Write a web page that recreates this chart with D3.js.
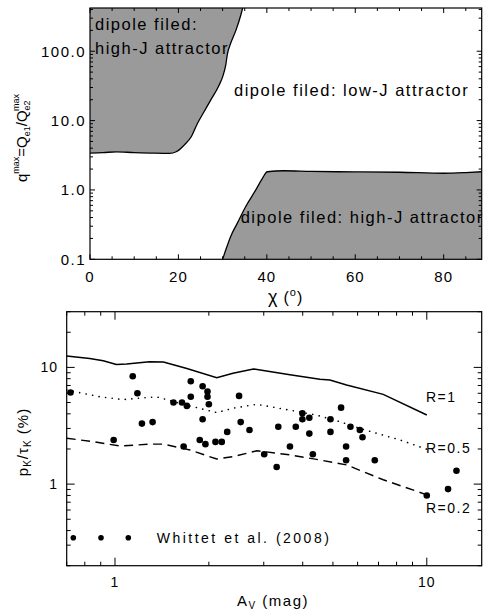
<!DOCTYPE html>
<html><head><meta charset="utf-8">
<script src="https://cdn.jsdelivr.net/npm/d3@7"></script>
<style>
body{margin:0;background:#fff;}
text{font-family:"Liberation Sans",Arial,Helvetica,sans-serif;fill:#000;}
</style></head><body>
<svg id="c" width="485" height="613"></svg>
<script>
// ---------- top panel data ----------
const highJTopChi = [0,3,6,10,14,18,19.5,21.3,22.9,24.3,25.8,27.3,29.2,30.0,30.7,31.1,31.8,33.0,34.1,34.6];
const highJTopQ   = [3.4,3.45,3.55,3.45,3.4,3.37,3.55,4.43,5.84,9.1,13.4,19.7,32.4,42.7,63,92.7,129,200,330,436];
const highJBotChi = [30.0,30.7,31.8,33.3,35.2,37.5,39.0,40.1,43.8,50,60,70,80,85,88.6];
const highJBotQ   = [0.1,0.136,0.212,0.33,0.573,1.0,1.47,1.83,1.89,1.85,1.82,1.80,1.74,1.78,1.83];
const chiTicks = [0,20,40,60,80];
const chiTickLabels = ["0","20","40","60","80"];
const qTicks = [0.1,1,10,100];
const qTickLabels = ["0.1","1.0","10.0","100.0"];
const regionLabels = ["dipole filed:","high-J attractor","dipole filed: low-J attractor","dipole filed: high-J attractor"];

// ---------- bottom panel data ----------
const r1Av  = [0.70,0.83,0.917,1.01,1.09,1.29,1.43,1.70,2.12,2.39,2.78,3.06,3.64,4.54,4.89,5.53,7.25,10];
const r1Val = [12.5,11.9,11.4,10.6,10.7,11.2,11.1,9.8,8.15,8.9,9.7,9.3,8.65,7.9,7.8,7.06,5.87,3.91];
const r05Av  = [0.70,0.895,1.06,1.36,1.62,2.12,2.39,2.85,3.64,4.43,5.26,6.1,8.2,10];
const r05Val = [6.4,5.6,5.3,5.6,4.9,4.1,4.47,4.83,4.3,3.9,3.43,3.0,2.39,1.99];
const r02Av  = [0.70,0.85,1.04,1.29,1.43,1.74,2.12,2.39,2.85,3.64,4.54,5.53,7.25,10];
const r02Val = [2.47,2.31,2.12,2.2,2.2,1.96,1.64,1.72,1.93,1.78,1.61,1.46,1.09,0.81];
const obsAv = [0.72,1.14,1.18,1.22,1.32,0.99,1.54,1.64,1.70,1.75,1.75,1.66,1.91,1.98,1.98,2.0,1.91,1.87,1.95,2.1,2.2,2.29,2.5,2.53,2.7,3.01,3.34,3.3,3.64,3.8,3.99,3.99,4.2,4.2,4.31,4.91,4.91,5.31,5.51,5.51,5.69,6.1,6.22,6.81,10.0,11.7,12.45];
const obsP  = [6.1,8.4,6.0,3.3,3.4,2.39,5.0,5.0,4.68,5.6,7.6,2.1,6.9,6.2,5.6,4.83,3.6,2.39,2.2,2.3,2.3,2.8,5.7,3.4,2.91,1.8,3.1,1.4,2.1,3.1,4.05,3.6,3.7,2.71,1.8,3.6,2.8,4.52,2.1,1.6,3.1,2.91,2.52,1.6,0.8,0.906,1.3];
const avTicks = [1,10];
const avTickLabels = ["1","10"];
const pTicks = [1,10];
const pTickLabels = ["1","10"];
const curveLabels = ["R=1","R=0.5","R=0.2"];
const legendLabel = "Whittet et al. (2008)";

const svg = d3.select("#c");

// ================= TOP PANEL =================
const T = {l:90, r:481.7, t:8, b:259.3};
const xT = d3.scaleLinear().domain([0,88.6]).range([T.l,T.r]);
const yT = d3.scaleLog().domain([0.1,420]).range([T.b,T.t]);

svg.append("clipPath").attr("id","clipT").append("rect")
  .attr("x",T.l).attr("y",T.t).attr("width",T.r-T.l).attr("height",T.b-T.t);
const gT = svg.append("g").attr("clip-path","url(#clipT)");

const topPts = highJTopChi.map((c,i)=>[c,highJTopQ[i]]);
const botPts = highJBotChi.map((c,i)=>[c,highJBotQ[i]]);
const bLine = d3.line().x(d=>xT(d[0])).y(d=>yT(d[1])).curve(d3.curveMonotoneX);

// upper-left region polygon
const d1 = bLine(topPts) + "L" + xT(34.6) + "," + yT(420) + "L" + xT(0) + "," + yT(420) + "Z";
gT.append("path").attr("d",d1).attr("fill","#9a9a9a");
// lower-right region polygon
const d2 = bLine(botPts) + "L" + xT(88.6) + "," + yT(0.1) + "Z";
gT.append("path").attr("d",d2).attr("fill","#9a9a9a");
gT.append("path").attr("d",bLine(topPts)).attr("fill","none").attr("stroke","#000").attr("stroke-width",1.3);
gT.append("path").attr("d",bLine(botPts)).attr("fill","none").attr("stroke","#000").attr("stroke-width",1.3);

// frame
svg.append("rect").attr("x",T.l).attr("y",T.t).attr("width",T.r-T.l).attr("height",T.b-T.t)
  .attr("fill","none").attr("stroke","#000").attr("stroke-width",1.2);

// ticks
const tk = svg.append("g").attr("stroke","#000").attr("stroke-width",1);
for (let c=0;c<=88.6;c+=5){
  const len = (c%20===0)?5:3;
  const x = xT(c);
  tk.append("line").attr("x1",x).attr("x2",x).attr("y1",T.b).attr("y2",T.b-len);
  tk.append("line").attr("x1",x).attr("x2",x).attr("y1",T.t).attr("y2",T.t+len);
}
[0.1,1,10,100].forEach(d=>{
  for (let k=1;k<=9;k++){
    const v=d*k; if (v>420) break;
    const len = (k===1)?5:3;
    const y=yT(v);
    tk.append("line").attr("x1",T.l).attr("x2",T.l+len).attr("y1",y).attr("y2",y);
    tk.append("line").attr("x1",T.r).attr("x2",T.r-len).attr("y1",y).attr("y2",y);
  }
});
// tick labels
chiTicks.forEach((c,i)=>svg.append("text").attr("x",xT(c)).attr("y",282).attr("text-anchor","middle")
  .attr("font-size",15).attr("letter-spacing",1).text(chiTickLabels[i]));
qTicks.forEach((q,i)=>svg.append("text").attr("x",86).attr("y",yT(q)+5.5).attr("text-anchor","end")
  .attr("font-size",15).attr("letter-spacing",1.5).text(qTickLabels[i]));

// region labels
const rl = [[95,30],[95,54],[234,96],[240.7,222.7]];
regionLabels.forEach((t,i)=>svg.append("text").attr("x",rl[i][0]).attr("y",rl[i][1])
  .attr("font-size",16.5).attr("letter-spacing",1.5).text(t));

// axis titles
const xtT = svg.append("text").attr("x",268).attr("y",303).attr("font-size",16);
xtT.append("tspan").attr("font-size",18).text("χ");
xtT.append("tspan").attr("dx",6).text("(");
xtT.append("tspan").attr("font-size",11).attr("dx",1).attr("dy",-7).text("o");
xtT.append("tspan").attr("dx",1).attr("dy",7).text(")");

const ytT = svg.append("text").attr("transform","translate(27,138) rotate(-90)")
  .attr("text-anchor","middle").attr("font-size",15);
ytT.append("tspan").text("q");
ytT.append("tspan").attr("font-size",9).attr("dy",-8).text("max");
ytT.append("tspan").attr("dy",8).text("=Q");
ytT.append("tspan").attr("font-size",9).attr("dy",3).text("e1");
ytT.append("tspan").attr("dy",-3).text("/Q");
ytT.append("tspan").attr("font-size",9).attr("dy",3).text("e2");
ytT.append("tspan").attr("font-size",9).attr("dx",-10.5).attr("dy",-11).text("max");

// ================= BOTTOM PANEL =================
const B = {l:66.7, r:481.7, t:311.7, b:565.7};
const xB = d3.scaleLog().domain([0.7,15]).range([B.l,B.r]);
const yB = d3.scaleLog().domain([0.2,30]).range([B.b,B.t]);

const line = d3.line().x(d=>xB(d[0])).y(d=>yB(d[1]));
svg.append("path").attr("d",line(r1Av.map((a,i)=>[a,r1Val[i]])))
  .attr("fill","none").attr("stroke","#000").attr("stroke-width",1.5);
svg.append("path").attr("d",line(r05Av.map((a,i)=>[a,r05Val[i]])))
  .attr("fill","none").attr("stroke","#000").attr("stroke-width",1.6)
  .attr("stroke-linecap","round").attr("stroke-dasharray","0.1,6.5");
svg.append("path").attr("d",line(r02Av.map((a,i)=>[a,r02Val[i]])))
  .attr("fill","none").attr("stroke","#000").attr("stroke-width",1.4)
  .attr("stroke-dasharray","9,5.5");

svg.append("g").selectAll("circle").data(obsAv).join("circle")
  .attr("cx",(d)=>xB(d)).attr("cy",(d,i)=>yB(obsP[i])).attr("r",3.3).attr("fill","#000");

// frame
svg.append("rect").attr("x",B.l).attr("y",B.t).attr("width",B.r-B.l).attr("height",B.b-B.t)
  .attr("fill","none").attr("stroke","#000").attr("stroke-width",1.2);
const tkB = svg.append("g").attr("stroke","#000").attr("stroke-width",1);
[0.1,1,10].forEach(d=>{
  for (let k=1;k<=9;k++){
    const v=d*k; if (v<0.7||v>15) continue;
    const len=(k===1)?8:4; const x=xB(v);
    tkB.append("line").attr("x1",x).attr("x2",x).attr("y1",B.b).attr("y2",B.b-len);
    tkB.append("line").attr("x1",x).attr("x2",x).attr("y1",B.t).attr("y2",B.t+len);
  }
});
[0.1,1,10].forEach(d=>{
  for (let k=1;k<=9;k++){
    const v=d*k; if (v<0.2||v>30) continue;
    const len=(k===1)?8:4; const y=yB(v);
    tkB.append("line").attr("x1",B.l).attr("x2",B.l+len).attr("y1",y).attr("y2",y);
    tkB.append("line").attr("x1",B.r).attr("x2",B.r-len).attr("y1",y).attr("y2",y);
  }
});
avTicks.forEach((a,i)=>svg.append("text").attr("x",xB(a)).attr("y",587).attr("text-anchor","middle")
  .attr("font-size",14).attr("letter-spacing",1).text(avTickLabels[i]));
pTicks.forEach((p,i)=>svg.append("text").attr("x",58).attr("y",yB(p)+5).attr("text-anchor","end")
  .attr("font-size",14).attr("letter-spacing",1).text(pTickLabels[i]));

// curve labels
const cl = [[426,401.7],[426,452.7],[426,513.3]];
curveLabels.forEach((t,i)=>svg.append("text").attr("x",cl[i][0]).attr("y",cl[i][1])
  .attr("font-size",14).attr("letter-spacing",1.5).text(t));

// legend
[73.3,101,128.3].forEach(x=>svg.append("circle").attr("cx",x).attr("cy",537.7).attr("r",2.8).attr("fill","#000"));
svg.append("text").attr("x",156.7).attr("y",543).attr("font-size",14).attr("letter-spacing",2.5).text(legendLabel);

// axis titles
const xtB = svg.append("text").attr("x",273).attr("y",606).attr("text-anchor","middle")
  .attr("font-size",15).attr("letter-spacing",1.5);
xtB.append("tspan").text("A");
xtB.append("tspan").attr("font-size",10).attr("dy",3).text("V");
xtB.append("tspan").attr("dy",-3).text(" (mag)");

const ytB = svg.append("text").attr("transform","translate(28,442) rotate(-90)")
  .attr("text-anchor","middle").attr("font-size",15).attr("letter-spacing",1);
ytB.append("tspan").text("p");
ytB.append("tspan").attr("font-size",10).attr("dy",3).text("K");
ytB.append("tspan").attr("dy",-3).text("/τ");
ytB.append("tspan").attr("font-size",10).attr("dy",3).text("K");
ytB.append("tspan").attr("dy",-3).text(" (%)");
</script>
</body></html>
